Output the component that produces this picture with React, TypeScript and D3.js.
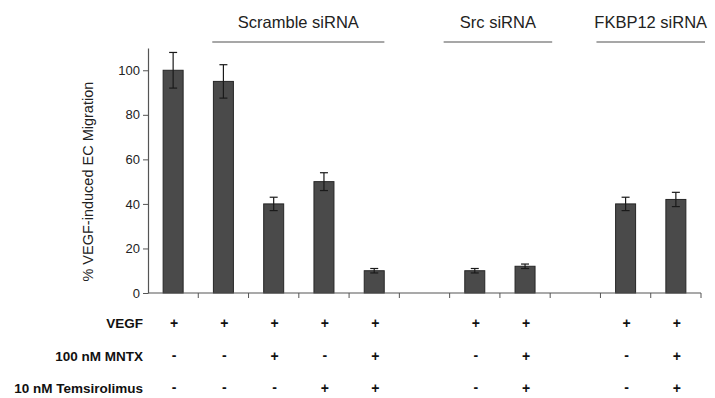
import React, { useEffect, useRef } from 'react';
import * as d3 from 'd3';

const categories = ['c1', 'c2', 'c3', 'c4', 'c5', 'gap1', 'c7', 'c8', 'gap2', 'c10', 'c11'];
const values: (number | null)[] = [100, 95, 40, 50, 10, null, 10, 12, null, 40, 42];
const errors: (number | null)[] = [8, 7.5, 3, 4, 1, null, 1, 1, null, 3, 3.2];
const yTicks = [0, 20, 40, 60, 80, 100];

const rowLabels = ['VEGF', '100 nM MNTX', '10 nM Temsirolimus'];
const rowVegf = ['+', '+', '+', '+', '+', '', '+', '+', '', '+', '+'];
const rowMntx = ['-', '-', '+', '-', '+', '', '-', '+', '', '-', '+'];
const rowTems = ['-', '-', '-', '+', '+', '', '-', '+', '', '-', '+'];

const groupLabels = ['Scramble siRNA', 'Src siRNA', 'FKBP12 siRNA'];
const groupSpans: [string, string][] = [['c2', 'c5'], ['c7', 'c8'], ['c10', 'c11']];

const FONT = '"Liberation Sans", Arial, sans-serif';

export default function App() {
  const svgRef = useRef<SVGSVGElement>(null);

  useEffect(() => {
    if (!svgRef.current) return;
    const width = 715;
    const height = 398;
    const margin = { left: 148, right: 14, top: 48, bottom: 105 };

    const svg = d3.select(svgRef.current);
    svg.selectAll('*').remove();

    const x = d3.scaleBand()
      .domain(categories)
      .range([margin.left, width - margin.right])
      .paddingInner(0)
      .paddingOuter(0);

    const y = d3.scaleLinear()
      .domain([0, 110])
      .range([height - margin.bottom, margin.top]);

    const bw = 20;
    const cx = (c: string) => (x(c) || 0) + x.bandwidth() / 2;

    // Bars
    categories.forEach((c, i) => {
      const v = values[i];
      if (v == null) return;
      svg.append('rect')
        .attr('x', cx(c) - bw / 2)
        .attr('y', y(v))
        .attr('width', bw)
        .attr('height', y(0) - y(v))
        .attr('fill', '#4a4a4a')
        .attr('stroke', '#262626')
        .attr('stroke-width', 1);

      const e = errors[i] || 0;
      const eg = svg.append('g').attr('stroke', '#1a1a1a').attr('stroke-width', 1.2);
      eg.append('line')
        .attr('x1', cx(c)).attr('x2', cx(c))
        .attr('y1', y(v + e)).attr('y2', y(v - e));
      eg.append('line')
        .attr('x1', cx(c) - 4).attr('x2', cx(c) + 4)
        .attr('y1', y(v + e)).attr('y2', y(v + e));
      eg.append('line')
        .attr('x1', cx(c) - 4).attr('x2', cx(c) + 4)
        .attr('y1', y(v - e)).attr('y2', y(v - e));
    });

    // Y axis
    const yAxis = svg.append('g')
      .attr('transform', `translate(${margin.left},0)`)
      .call(d3.axisLeft(y).tickValues(yTicks).tickSize(5).tickSizeOuter(0).tickPadding(3));
    yAxis.select('.domain').attr('stroke', '#555').attr('stroke-width', 1.2);
    yAxis.selectAll('.tick line').attr('stroke', '#555');
    yAxis.selectAll('.tick text')
      .attr('font-family', FONT)
      .attr('font-size', 13)
      .attr('fill', '#222');

    // X axis with ticks at category boundaries
    const x0 = y(0);
    svg.append('line')
      .attr('x1', margin.left).attr('x2', width - margin.right)
      .attr('y1', x0).attr('y2', x0)
      .attr('stroke', '#555').attr('stroke-width', 1.2);
    const bounds = categories.map(c => (x(c) || 0)).concat([width - margin.right]);
    bounds.slice(1).forEach(b => {
      svg.append('line')
        .attr('x1', b).attr('x2', b)
        .attr('y1', x0).attr('y2', x0 + 5)
        .attr('stroke', '#555').attr('stroke-width', 1);
    });

    // Y axis label
    svg.append('text')
      .attr('transform', `translate(93,${(y(0) + y(100)) / 2}) rotate(-90)`)
      .attr('text-anchor', 'middle')
      .attr('font-family', FONT)
      .attr('font-size', 14.5)
      .attr('fill', '#222')
      .text('% VEGF-induced EC Migration');

    // Group labels with lines (line overhang per group, left/right)
    const overhang: [number, number][] = [[-14, -15], [6, 2], [4, 4]];
    groupLabels.forEach((g, i) => {
      const [a, b] = groupSpans[i];
      const xa = (x(a) || 0) - overhang[i][0];
      const xb = (x(b) || 0) + x.bandwidth() + overhang[i][1];
      svg.append('line')
        .attr('x1', xa).attr('x2', xb)
        .attr('y1', 42).attr('y2', 42)
        .attr('stroke', '#8a8a8a').attr('stroke-width', 1.6);
      svg.append('text')
        .attr('x', (xa + xb) / 2)
        .attr('y', 28)
        .attr('text-anchor', 'middle')
        .attr('font-family', FONT)
        .attr('font-size', 16.5)
        .attr('fill', '#222')
        .text(g);
    });

    // Treatment table
    const rows = [rowVegf, rowMntx, rowTems];
    const rowY = [323, 356, 388];
    rows.forEach((row, r) => {
      svg.append('text')
        .attr('x', 143)
        .attr('y', rowY[r] + 4.5)
        .attr('text-anchor', 'end')
        .attr('font-family', FONT)
        .attr('font-weight', 'bold')
        .attr('font-size', 13.5)
        .attr('fill', '#111')
        .text(rowLabels[r]);
      row.forEach((s, i) => {
        if (!s) return;
        svg.append('text')
          .attr('x', cx(categories[i]) + 1)
          .attr('y', rowY[r] + (s === '+' ? 5 : 4))
          .attr('text-anchor', 'middle')
          .attr('font-family', FONT)
          .attr('font-weight', 'bold')
          .attr('font-size', 14)
          .attr('fill', '#111')
          .text(s);
      });
    });
  }, []);

  return (
    <svg
      ref={svgRef}
      width={715}
      height={398}
      style={{ position: 'absolute', left: 0, top: 0, background: '#fff' }}
    />
  );
}
